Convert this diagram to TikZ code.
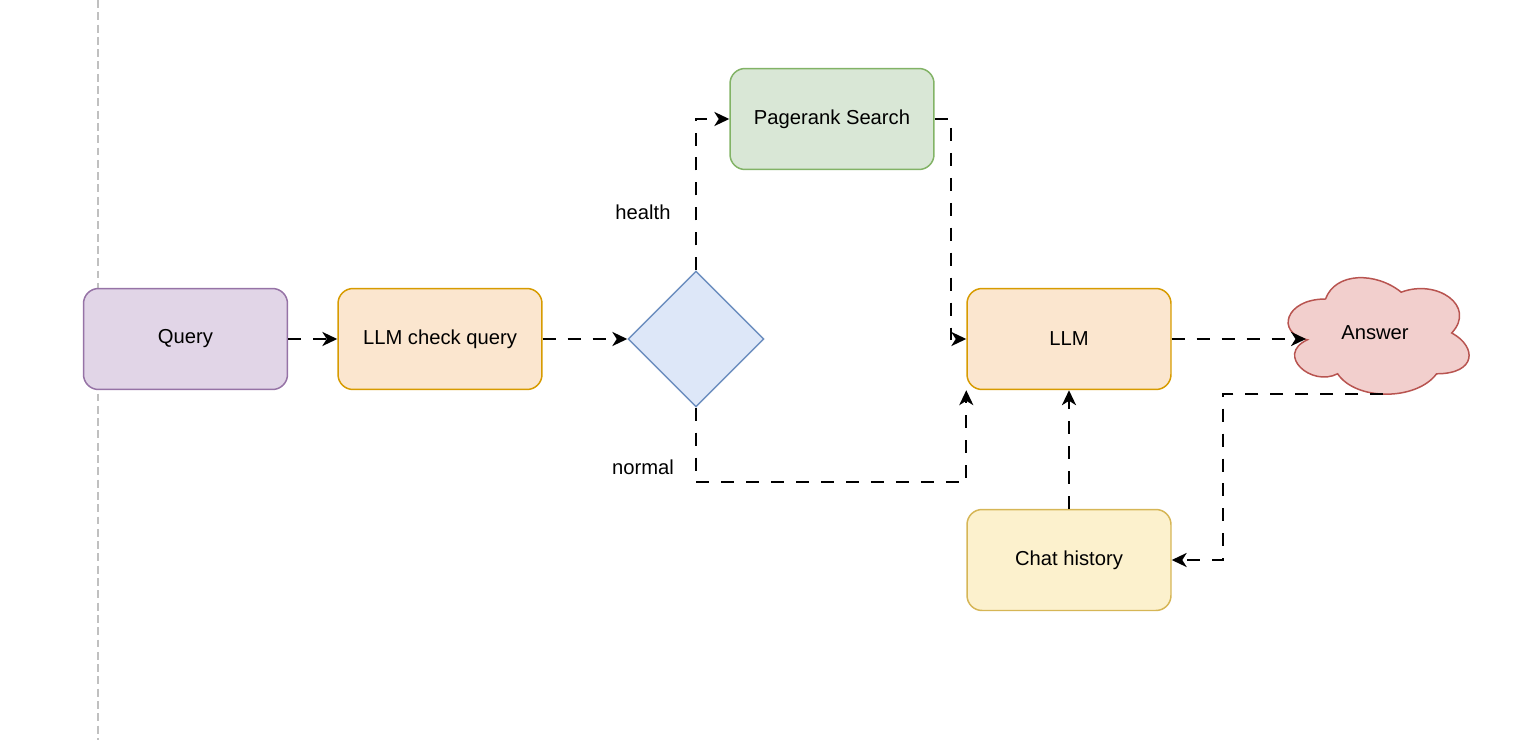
\documentclass[tikz,border=0pt]{standalone}
\usepackage{fontspec}
\setmainfont{Liberation Sans}
\usetikzlibrary{shapes.geometric,arrows.meta,calc}
\definecolor{qfill}{HTML}{E1D5E7}\definecolor{qdraw}{HTML}{9673A6}
\definecolor{ofill}{HTML}{FBE6CF}\definecolor{odraw}{HTML}{D79B00}
\definecolor{gfill}{HTML}{D9E7D6}\definecolor{gdraw}{HTML}{82B366}
\definecolor{bfill}{HTML}{DDE7F8}\definecolor{bdraw}{HTML}{6C8EBF}
\definecolor{yfill}{HTML}{FCF1CD}\definecolor{ydraw}{HTML}{D6B656}
\definecolor{rfill}{HTML}{F2CFCD}\definecolor{rdraw}{HTML}{B85450}
\definecolor{guide}{HTML}{C0C0C0}
\tikzset{
  box/.style={rectangle, rounded corners=0.3cm, minimum width=4.08cm, minimum height=2.02cm, line width=0.85pt, inner sep=0pt, font=\fontsize{11.5}{13}\selectfont},
  qbox/.style={box, fill=qfill, draw=qdraw},
  obox/.style={box, fill=ofill, draw=odraw},
  gbox/.style={box, fill=gfill, draw=gdraw},
  ybox/.style={box, fill=yfill, draw=ydraw},
  decide/.style={diamond, aspect=1, minimum width=2.72cm, minimum height=2.72cm, inner sep=0pt, fill=bfill, draw=bdraw, line width=0.85pt},
  conn/.style={line width=1.2pt, dash pattern=on 7.4pt off 6.8pt, -{Stealth[length=8.5pt, width=8pt, inset=2.5pt]}},
  lbl/.style={font=\fontsize{11.5}{13}\selectfont, inner sep=0pt},
}
\begin{document}
\begin{tikzpicture}[x=0.02cm, y=-0.02cm]
\useasboundingbox (0,0) rectangle (1534,740);
% guide line
\draw[guide, line width=1.1pt, dash pattern=on 4.5pt off 2.5pt] (98,0) -- (98,740);
% nodes
\node[qbox] (q) at (185.5,339) {Query};
\node[obox] (chk) at (440,339) {LLM check query};
\node[decide] (dia) at (696,339) {};
\node[gbox] (pr) at (832,119) {Pagerank Search};
\node[obox] (llm) at (1069,339) {LLM};
\node[ybox] (ch) at (1069,560) {Chat history};
% cloud
\begin{scope}[shift={(1275,265)}, x={(4.04cm,0)}, y={(0,-2.72cm)}]
\draw[fill=rfill, draw=rdraw, line width=0.85pt]
  (0.25,0.25) .. controls (0.05,0.25) and (0,0.5) .. (0.16,0.55)
  .. controls (0,0.66) and (0.18,0.9) .. (0.31,0.8)
  .. controls (0.4,1) and (0.7,1) .. (0.8,0.8)
  .. controls (1,0.8) and (1,0.6) .. (0.875,0.5)
  .. controls (1,0.3) and (0.8,0.1) .. (0.625,0.2)
  .. controls (0.5,0.05) and (0.3,0.05) .. (0.25,0.25) -- cycle;
\end{scope}
\node[lbl] (ans) at (1375,333) {Answer};
\coordinate (ansin) at (1306,339);
\coordinate (ansout) at (1383,394);
% labels
\node[lbl] (health) at (643,212) {health};
\node[lbl] (normal) at (643,467) {normal};
% connectors
\draw[conn] (q.east) -- (chk.west);
\draw[conn] (chk.east) -- (dia.west);
\draw[conn] (dia.north) |- (pr.west);
\draw[conn] (pr.east) -- ($(pr.east)+(16,0)$) |- (llm.west);
\draw[conn] (dia.south) |- ($(llm.south west)+(0,92)$) -- (llm.south west);
\draw[conn] (llm.east) -- (ansin);
\draw[conn] (ansout) -- (1223,394) |- (ch.east);
\draw[conn] (ch.north) -- (llm.south);
\end{tikzpicture}
\end{document}
